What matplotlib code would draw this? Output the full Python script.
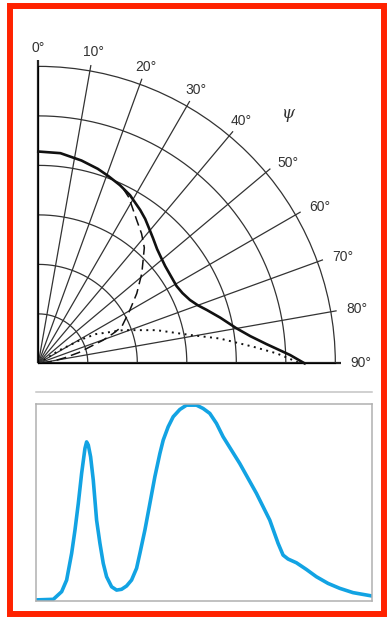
import numpy as np
import matplotlib
matplotlib.use("Agg")
import matplotlib.pyplot as plt
from matplotlib.patches import Rectangle
from matplotlib.lines import Line2D

plt.rcParams['font.family'] = ['Liberation Sans', 'DejaVu Sans']

# ---------------- data ----------------
# polar diagram (angle psi in degrees, radius in grid units)
solid_psi = [0, 6, 12, 17, 20.5, 24.6, 28.6, 33.6, 36.5, 39.3, 42.5, 46.1, 49.5, 52.5, 57, 60.8,
             64, 67.3, 70, 72.4, 75.9, 79.9, 82.7, 85.2, 88.1, 90]
solid_r = [4.28, 4.27, 4.19, 4.11, 4.04, 3.96, 3.87, 3.72, 3.63, 3.53, 3.43, 3.33, 3.27, 3.23, 3.205, 3.20,
           3.24, 3.32, 3.43, 3.57, 3.79, 4.06, 4.32, 4.63, 5.09, 5.38]

dashed_psi = [26, 28.6, 34.5, 38.5, 42.5, 49, 54.6, 59.8, 66.3, 68.2, 70.3, 72.2, 75, 78, 82, 86, 90]
dashed_r = [3.92, 3.82, 3.51, 3.35, 3.17, 2.77, 2.44, 2.14, 1.84, 1.63, 1.39, 1.10, 0.85, 0.55, 0.28, 0.08, 0.0]

dotted_psi = [55, 58, 61, 63, 68.6, 74.3, 79.4, 82.2, 85.6, 87.6, 89.3, 90]
dotted_r = [0.0, 0.5, 1.0, 1.3, 1.84, 2.48, 3.12, 3.70, 4.36, 4.82, 5.15, 5.29]

angle_ticks = [0, 10, 20, 30, 40, 50, 60, 70, 80, 90]
angle_labels = ['0°', '10°', '20°', '30°', '40°', '50°', '60°', '70°', '80°', '90°']
ring_radii = [1, 2, 3, 4, 5]
r_max = 6

# spectrum-like curve (arbitrary units)
spec_x = [0, 5.24, 7.72, 9.20, 10.69, 11.68, 12.67, 13.66, 14.65, 15.14, 15.64, 16.33, 17.12, 18.11,
          19.10, 20.09, 21.08, 22.57, 24.06, 25.54, 27.03, 28.51, 30.0, 30.99, 32.47, 33.96, 35.44,
          36.93, 37.92, 39.40, 40.89, 42.87, 44.85, 47.82, 49.80, 51.78, 53.76, 55.74, 60.69, 65.65,
          69.61, 72.08, 73.57, 75.05, 77.53, 80.50, 83.47, 86.94, 90.40, 94.37, 100]
spec_y = [0.004, 0.007, 0.046, 0.105, 0.241, 0.359, 0.495, 0.648, 0.775, 0.808, 0.792, 0.732, 0.614,
          0.410, 0.292, 0.190, 0.122, 0.071, 0.054, 0.058, 0.075, 0.105, 0.165, 0.241, 0.359, 0.495,
          0.631, 0.749, 0.817, 0.885, 0.936, 0.973, 0.995, 0.995, 0.978, 0.953, 0.902, 0.834, 0.698,
          0.546, 0.410, 0.292, 0.232, 0.212, 0.193, 0.159, 0.122, 0.088, 0.063, 0.041, 0.024]

# ---------------- figure ----------------
fig = plt.figure(figsize=(3.91, 6.18), dpi=100)
fig.patch.set_facecolor('white')

grid_c = '#333333'
ax = fig.add_axes([0.098, 0.412, 0.7596, 0.4806], projection='polar')
ax.set_theta_zero_location('N')
ax.set_theta_direction(-1)
ax.set_thetamin(0)
ax.set_thetamax(90)
ax.set_rlim(0, r_max)
ax.grid(False)
ax.set_xticks([])
ax.set_yticks([])
for name, sp in ax.spines.items():
    if name == 'polar':
        sp.set_linewidth(0.9)
        sp.set_edgecolor(grid_c)
    else:
        sp.set_visible(False)

arc = np.linspace(0, np.pi / 2, 200)
for rr in ring_radii:
    ax.plot(arc, np.full_like(arc, rr), color=grid_c, lw=0.9, zorder=1)

for a in angle_ticks:
    t = np.deg2rad(a)
    lw = 1.6 if a in (0, 90) else 0.9
    ax.plot([t, t], [0, 6.12], color=grid_c if a not in (0, 90) else '#222222', lw=lw,
            clip_on=False, zorder=2, solid_capstyle='butt')

for a, lab in zip(angle_ticks, angle_labels):
    t = np.deg2rad(a)
    if a <= 40:
        ax.text(t, 6.38, lab, ha='center', va='center', fontsize=10, color='#333333', clip_on=False)
    else:
        ax.text(t, 6.31, lab, ha='left', va='center', fontsize=10, color='#333333', clip_on=False)

ax.text(np.deg2rad(45), 7.14, 'ψ', ha='center', va='center', fontsize=12, style='italic',
        family=['DejaVu Serif'], color='#333333', clip_on=False)

ax.plot(np.deg2rad(solid_psi), solid_r, color='#111111', lw=1.9, zorder=4, clip_on=False,
        solid_joinstyle='round')
ax.plot(np.deg2rad(dashed_psi), dashed_r, color='#111111', lw=1.1, ls=(0, (6.5, 3.3)), zorder=4)
ax.plot(np.deg2rad(dotted_psi), dotted_r, color='#111111', lw=1.4, ls=(0, (1, 2.3)), zorder=4)

# separator line
fig.add_artist(Line2D([0.0913, 0.951], [0.365, 0.365], transform=fig.transFigure,
                      color='#c4c4c4', lw=1.1))

# bottom panel
ax2 = fig.add_axes([0.0913, 0.028, 0.860, 0.318])
ax2.plot(spec_x, spec_y, color='#12a3e3', lw=2.6, solid_capstyle='round', solid_joinstyle='round')
ax2.set_xlim(0, 100)
ax2.set_ylim(0, 1.0)
ax2.set_xticks([])
ax2.set_yticks([])
for sp in ax2.spines.values():
    sp.set_edgecolor('#b0b0b0')
    sp.set_linewidth(1.1)

# red frame
fig.add_artist(Rectangle((0.0248, 0.0057), 0.982 - 0.0248, 0.9898 - 0.0057, transform=fig.transFigure,
                         fill=False, ec='#ff2200', lw=4.3))

fig.savefig('out.png', dpi=100)
